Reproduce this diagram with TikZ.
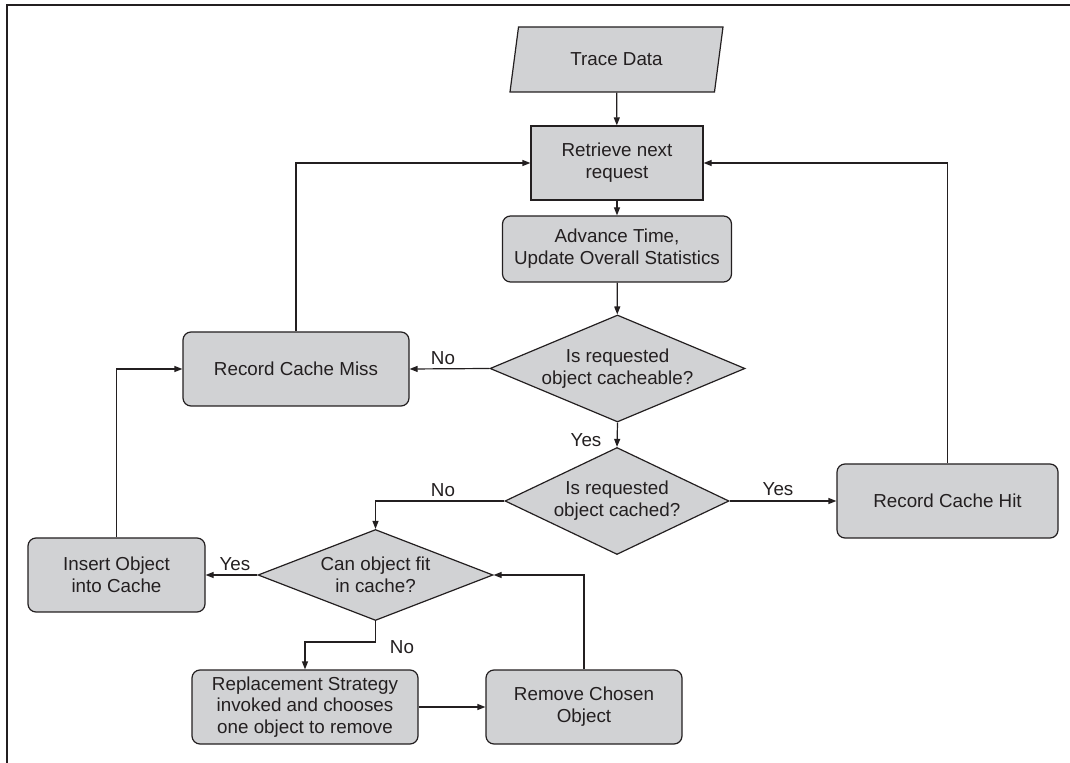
\documentclass[tikz,border=0pt]{standalone}
\usepackage{fontspec}
\setmainfont{Liberation Sans}
\usetikzlibrary{shapes.geometric, arrows.meta}

\begin{document}
\begin{tikzpicture}[x=0.5pt, y=-0.5pt, font=\fontsize{9.4}{10.9}\selectfont, line width=0.6pt]
  \definecolor{fl}{HTML}{D1D2D4}
  \definecolor{ln}{HTML}{231F20}
  \tikzset{
    box/.style={draw=ln, fill=fl, text=ln, align=center, inner sep=0pt, minimum height=37pt},
    procbox/.style={box, rounded corners=4pt},
    decbox/.style={box, diamond},
    iobox/.style={box, trapezium, trapezium stretches body, trapezium left angle=57, trapezium right angle=123},
    flow/.style={draw=ln, -{Triangle[length=4pt, width=3pt]}},
    lbl/.style={text=ln, inner sep=0pt}
  }
  \useasboundingbox (0, 0) rectangle (1070, 763);

  % page frame
  \coordinate (framebl) at (7, 763);
  \coordinate (frametl) at (7, 5);
  \coordinate (frametr) at (1070, 5);
  \draw [ln, line width=1.25pt] (framebl) -- (frametl) -- (frametr);

  \node (data) at (616.5, 59.5) [iobox, minimum width=106.5pt, minimum height=32.5pt] {Trace Data};
  \node (retrieve) at (617, 163) [box, minimum width=86pt] {Retrieve next\\request};
  \node (advance) at (617, 249) [procbox, minimum width=114.5pt, minimum height=33pt] {Advance Time,\\Update Overall Statistics};

  % decisions
  \node (cacheable) at (617.5, 368.5) [decbox, aspect=2.38, minimum width=127.5pt, minimum height=53.5pt] {Is requested\\object cacheable?};
  \node (cached) at (617, 501) [decbox, aspect=2.09, minimum width=112pt, minimum height=53.5pt] {Is requested\\object cached?};
  \node (fit) at (375.5, 575) [decbox, aspect=2.58, minimum width=117.5pt, minimum height=45.5pt] {Can object fit\\in cache?};

  \node (miss) at (296, 369) [procbox, minimum width=113pt] {Record Cache Miss};
  \node (hit) at (947.5, 501) [procbox, minimum width=110.5pt] {Record Cache Hit};
  \node (insert) at (116.5, 575) [procbox, minimum width=88.5pt] {Insert Object\\into Cache};
  \node (replace) at (305, 707) [procbox, minimum width=113pt] {Replacement Strategy\\invoked and chooses\\one object to remove};
  \node (remove) at (584, 707) [procbox, minimum width=98pt] {Remove Chosen\\Object};

  \draw [flow] (data) -- (retrieve);
  \draw [flow] (retrieve) -- (advance);
  \draw [flow] (advance) -- (cacheable);
  \draw [flow] (cacheable.west) -- (miss.east);
  \draw [flow] (cacheable.south) -- (cached.north);
  \draw [flow] (cached.east) -- (hit.west);
  \draw [flow] (cached.west) -| (fit.north);
  \draw [flow] (fit.west) -- (insert.east);
  \draw [flow] (fit.south) -- (fit.south |- 0, 642) -| (replace.north);
  \draw [flow] (replace.east) -- (remove.west);
  \draw [flow] (remove.north) |- (fit.east);
  \draw [flow] (insert.north) |- (miss.west);
  \draw [flow] (miss.north) |- (retrieve.west);
  \draw [flow] (hit.north) |- (retrieve.east);

  \node (nomiss) at (443, 358) [lbl] {No};
  \node (yescached) at (586, 440) [lbl] {Yes};
  \node (yeshit) at (778, 489) [lbl] {Yes};
  \node (nofit) at (443, 490) [lbl] {No};
  \node (yesinsert) at (235, 564) [lbl] {Yes};
  \node (noreplace) at (402, 647) [lbl] {No};
\end{tikzpicture}
\end{document}
